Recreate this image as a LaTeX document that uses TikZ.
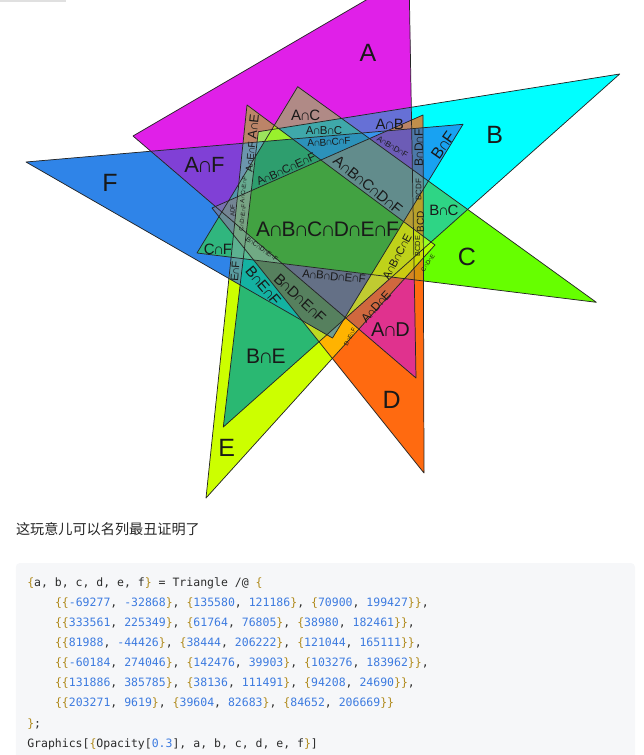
\documentclass[tikz,border=0pt]{standalone}
\usepackage{fontspec}
\setmonofont{DejaVu Sans Mono}
\newfontfamily\lblfont{Liberation Sans}
\newfontfamily\cjk{Noto Sans CJK SC}
% set colours
\definecolor{colA}{HTML}{E020E8}
\definecolor{colB}{HTML}{00FFFF}
\definecolor{colC}{HTML}{66FF00}
\definecolor{colD}{HTML}{FF6A10}
\definecolor{colE}{HTML}{CCFF00}
\definecolor{colF}{HTML}{2F84E8}
% region colours
\definecolor{rAF}{HTML}{8040D6}
\definecolor{rAC}{HTML}{B08A86}
\definecolor{rAB}{HTML}{6670D6}
\definecolor{rBF}{HTML}{18A2F2}
\definecolor{rBC}{HTML}{2ED585}
\definecolor{rCF}{HTML}{30B67E}
\definecolor{rBE}{HTML}{2AB872}
\definecolor{rAD}{HTML}{E0328E}
\definecolor{rDE}{HTML}{FFB300}
\definecolor{rAE}{HTML}{BC8468}
\definecolor{rEF}{HTML}{5A9CA0}
\definecolor{rABC}{HTML}{3FA8AA}
\definecolor{rBEF}{HTML}{14B2A2}
\definecolor{rADE}{HTML}{D0683E}
\definecolor{rBDF}{HTML}{4C78A8}
\definecolor{rABCF}{HTML}{2C92BA}
\definecolor{rABDF}{HTML}{6C5CB6}
\definecolor{rBDEF}{HTML}{56805E}
\definecolor{rABCDF}{HTML}{628C8C}
\definecolor{rABCEF}{HTML}{2E9E6E}
\definecolor{rABDEF}{HTML}{647086}
\definecolor{rALL}{HTML}{42A242}
\definecolor{codebg}{HTML}{F6F7F9}
\definecolor{cbrace}{HTML}{B08A1C}
\definecolor{cnum}{HTML}{3D7BE0}
\definecolor{ctext}{HTML}{2B2B2B}
\newcommand\I{\kern-0.085em ∩\kern-0.085em}
\newcommand\cb[1]{\textcolor{cbrace}{#1}}
\newcommand\cn[1]{\textcolor{cnum}{#1}}
\newcommand\pr[2]{\cb{\{}\cn{#1}, \cn{#2}\cb{\}}}
% fill exactly the region inside #1 and outside #2
\makeatletter
\newcommand\regfill[3]{%
  \begin{scope}[even odd rule]
    \@for\trin:=#1\do{\clip (\trin1) -- (\trin2) -- (\trin3) -- cycle;}%
    \@for\trin:=#2\do{\clip (-20,-40) rectangle (660,520) (\trin1) -- (\trin2) -- (\trin3) -- cycle;}%
    \fill[#3] (-20,-40) rectangle (660,520);
  \end{scope}}
\makeatother
\tikzset{
  tri/.style={draw=black!85, line width=0.55pt, line join=round},
  lbl/.style={font=\lblfont\fontsize{#1}{#1}\selectfont, inner sep=0pt, text=black!90},
  codeln/.style={anchor=base west, inner sep=0pt, font=\ttfamily\fontsize{8.62}{10}\selectfont, text=ctext}
}

\begin{document}
\begin{tikzpicture}[x=0.75pt,y=-0.75pt]
  \useasboundingbox (0,0) rectangle (643,755);
  \fill[black!12] (0,0) rectangle (66,2.5);

  % the six triangles
  \coordinate (A1) at (133,136);     \coordinate (A2) at (409,-25);    \coordinate (A3) at (416,378);
  \coordinate (B1) at (258.3,131.7); \coordinate (B2) at (619.7,74);   \coordinate (B3) at (223.3,427);
  \coordinate (C1) at (197,253);     \coordinate (C2) at (297.7,86.7); \coordinate (C3) at (596.3,302.3);
  \coordinate (D1) at (212,208);     \coordinate (D2) at (423,115);    \coordinate (D3) at (424,473);
  \coordinate (E1) at (206,498);     \coordinate (E2) at (247,105);    \coordinate (E3) at (435,245);
  \coordinate (F1) at (26,162);      \coordinate (F2) at (463,124.3);  \coordinate (F3) at (332.5,338);

  \begin{scope}
    \clip (0,0) rectangle (643,510);
    \foreach \t in {A,B,C,D,E,F} \fill[col\t] (\t1) -- (\t2) -- (\t3) -- cycle;
    \foreach \t in {A,B,C,D,E,F} \fill[col\t, fill opacity=0.5] (\t1) -- (\t2) -- (\t3) -- cycle;
    % overlaps, two sets
    \regfill{A,F}{B,C,D,E}{rAF}
    \regfill{A,C}{B,D,E,F}{rAC}
    \regfill{A,B}{C,D,E,F}{rAB}
    \regfill{B,F}{A,C,D,E}{rBF}
    \regfill{B,C}{A,D,E,F}{rBC}
    \regfill{C,F}{A,B,D,E}{rCF}
    \regfill{B,E}{A,C,D,F}{rBE}
    \regfill{A,D}{B,C,E,F}{rAD}
    \regfill{D,E}{A,B,C,F}{rDE}
    \regfill{A,E}{B,C,D,F}{rAE}
    \regfill{E,F}{A,B,C,D}{rEF}
    % three and four sets
    \regfill{A,B,C}{D,E,F}{rABC}
    \regfill{B,E,F}{A,C,D}{rBEF}
    \regfill{A,D,E}{B,C,F}{rADE}
    \regfill{B,D,F}{A,C,E}{rBDF}
    \regfill{A,B,C,F}{D,E}{rABCF}
    \regfill{A,B,D,F}{C,E}{rABDF}
    \regfill{B,D,E,F}{A,C}{rBDEF}
    % five and six sets
    \regfill{A,B,C,D,F}{E}{rABCDF}
    \regfill{A,B,C,E,F}{D}{rABCEF}
    \regfill{A,B,D,E,F}{C}{rABDEF}
    \regfill{A,B,C,D,E,F}{}{rALL}
    \foreach \t in {A,B,C,D,E,F} \draw[tri] (\t1) -- (\t2) -- (\t3) -- cycle;
  \end{scope}

  % set names
  \node[lbl=18.75] (labA) at (368,53) {A};
  \node[lbl=18.75] (labB) at (494.7,135) {B};
  \node[lbl=18.75] (labC) at (467,257) {C};
  \node[lbl=18.75] (labD) at (391.7,400) {D};
  \node[lbl=18.75] (labE) at (226.7,448.3) {E};
  \node[lbl=18.75] (labF) at (110,182.7) {F};
  % region names
  \node[lbl=16.5] (labAF) at (204.5,165) {A\I F};
  \node[lbl=11.25] (labAC) at (305.7,115.3) {A\I C};
  \node[lbl=11.25] (labAB) at (389.7,124) {A\I B};
  \node[lbl=8.6] (labABC) at (324,130.5) {A\I B\I C};
  \node[lbl=7.5, rotate=4] (labABCF) at (329,142) {A\I B\I C\I F};
  \node[lbl=6, rotate=-31] (labABDF) at (392.5,146.7) {A\I B\I D\I F};
  \node[lbl=11.25, rotate=-39] (labABCDF) at (368,185) {A\I B\I C\I D\I F};
  \node[lbl=8.6, rotate=25] (labABCEF) at (286,169) {A\I B\I C\I E\I F};
  \node[lbl=15.75] (labABCDEF) at (327.5,229.5) {A\I B\I C\I D\I E\I F};
  \node[lbl=9.75, rotate=84] (labAE) at (253.3,126.7) {A\I E};
  \node[lbl=7.5, rotate=84] (labAEF) at (250.5,157) {A\I E\I F};
  \node[lbl=9, rotate=90] (labBDF) at (418.7,148) {B\I D\I F};
  \node[lbl=6, rotate=90] (labBCDF) at (418.7,190) {BCDF};
  \node[lbl=7.5, rotate=90] (labBCD) at (420.5,222) {BCD};
  \node[lbl=5.5, rotate=90] (labBCDE) at (417.5,246) {BCDE};
  \node[lbl=8.5, rotate=62] (labABCE) at (397,257) {A\I B\I C\I E};
  \node[lbl=12, rotate=55] (labBF) at (443,145) {B\I F};
  \node[lbl=11.25] (labBC) at (444,210.5) {B\I C};
  \node[lbl=11.25] (labCF) at (218,249) {C\I F};
  \node[lbl=8.6, rotate=-5] (labABDEF) at (334,276.5) {A\I B\I D\I E\I F};
  \node[lbl=11.25, rotate=-43] (labBDEF) at (300,298.3) {B\I D\I E\I F};
  \node[lbl=11.25, rotate=-50] (labBEF) at (263.3,285.8) {B\I E\I F};
  \node[lbl=8.25, rotate=86] (labEF) at (235,271.7) {E\I F};
  \node[lbl=15.75] (labBE) at (265.8,355.8) {B\I E};
  \node[lbl=15] (labAD) at (390.5,330) {A\I D};
  \node[lbl=9, rotate=48] (labADE) at (376,306.7) {A\I D\I E};
  % tiny names
  \node[lbl=4.5, rotate=90] (labADF) at (232.5,211) {ADF};
  \node[lbl=4.5, rotate=84] (labACEF) at (243.5,190) {A\I C\I E\I F};
  \node[lbl=4.5, rotate=84] (labCDEF) at (242.5,218) {C\I D\I E\I F};
  \node[lbl=5, rotate=-35] (labBCDEF) at (262,249) {B\I C\I D\I E\I F};
  \node[lbl=4.5, rotate=55] (labCDE) at (428,263) {C\I D\I E};
  \node[lbl=4.5, rotate=62] (labDEF) at (350,337) {D\I E\I F};

  % remark and code
  \node[anchor=west, inner sep=0pt, font=\cjk\fontsize{10.6}{12}\selectfont, text=black!85] (remark) at (15.8,529.5) {这玩意儿可以名列最丑证明了};
  \fill[codebg] (15.8,755) {[rounded corners=3] -- (15.8,563) -- (635,563)} -- (635,755) -- cycle;
  \node[codeln] (code1) at (27,586.3) {\cb{\{}a, b, c, d, e, f\cb{\}} = Triangle /@ \cb{\{}};
  \node[codeln] (code2) at (54.8,606.4) {\cb{\{}\pr{-69277}{-32868}, \pr{135580}{121186}, \pr{70900}{199427}\cb{\}},};
  \node[codeln] (code3) at (54.8,626.5) {\cb{\{}\pr{333561}{225349}, \pr{61764}{76805}, \pr{38980}{182461}\cb{\}},};
  \node[codeln] (code4) at (54.8,646.6) {\cb{\{}\pr{81988}{-44426}, \pr{38444}{206222}, \pr{121044}{165111}\cb{\}},};
  \node[codeln] (code5) at (54.8,666.7) {\cb{\{}\pr{-60184}{274046}, \pr{142476}{39903}, \pr{103276}{183962}\cb{\}},};
  \node[codeln] (code6) at (54.8,686.8) {\cb{\{}\pr{131886}{385785}, \pr{38136}{111491}, \pr{94208}{24690}\cb{\}},};
  \node[codeln] (code7) at (54.8,706.9) {\cb{\{}\pr{203271}{9619}, \pr{39604}{82683}, \pr{84652}{206669}\cb{\}}};
  \node[codeln] (code8) at (27,727) {\cb{\}};};
  \node[codeln] (code9) at (27,747.1) {Graphics[\cb{\{}Opacity[\cn{0.3}], a, b, c, d, e, f\cb{\}}]};
\end{tikzpicture}
\end{document}
